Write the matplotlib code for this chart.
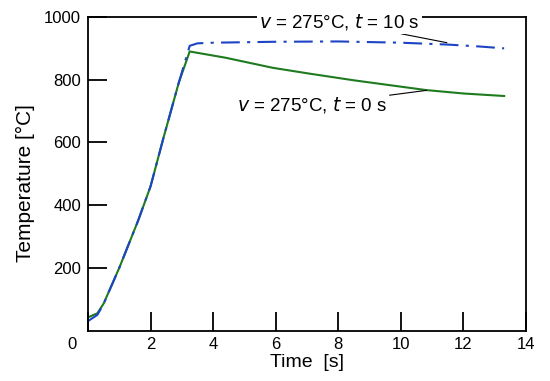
import matplotlib
matplotlib.use('Agg')
import matplotlib.pyplot as plt

# ramp (shared shape), then the two holding curves
ramp_t = [0.0, 0.3, 0.5, 1.0, 1.6, 2.0, 2.4, 2.9, 3.25]
ramp_blue = [30, 50, 85, 200, 350, 460, 610, 790, 908]
ramp_green = [42, 55, 86, 200, 350, 460, 610, 790, 890]

blue_t = [3.5, 4.0, 6.0, 8.0, 10.0, 11.5, 12.5, 13.3]
blue_T = [916, 918, 921, 922, 918, 912, 906, 900]

green_t = [4.4, 5.9, 7.1, 8.5, 10.8, 12.0, 13.3]
green_T = [870, 838, 819, 798, 767, 756, 748]

xticks = [0, 2, 4, 6, 8, 10, 12, 14]
yticks = [200, 400, 600, 800, 1000]

plt.rcParams['font.family'] = ['Liberation Sans', 'DejaVu Sans']
plt.rcParams['font.size'] = 12

fig = plt.figure(figsize=(5.5, 3.81), dpi=100)
ax = fig.add_axes([0.16, 0.1325, 0.7964, 0.8229])

ax.plot(ramp_t + green_t, ramp_green + green_T, color='#1e7b1e', lw=1.5)
ax.plot(ramp_t + blue_t, ramp_blue + blue_T, color='#1c44c4', lw=1.5,
        linestyle=(0, (9, 3.5, 1.5, 3.5)))

ax.set_xlim(0, 14)
ax.set_ylim(0, 1000)
ax.set_xticks(xticks)
ax.set_xticklabels([''] + [str(x) for x in xticks[1:]])
ax.set_yticks(yticks)
ax.tick_params(direction='in', length=13.5, width=1.3, pad=5, labelsize=12)
for s in ax.spines.values():
    s.set_linewidth(1.3)

ax.annotate('0', xy=(0, 0), xycoords=('data', 'axes fraction'),
            xytext=(-11.5, -4.7), textcoords='offset points',
            ha='center', va='top', fontsize=12)

ax.set_xlabel('Time  [s]', fontsize=14, labelpad=1)
ax.set_ylabel('Temperature [°C]', fontsize=15)
ax.yaxis.set_label_coords(-0.12, 0.47)

ax.annotate('$\\it{v}$ = 275°C, $\\it{t}$ = 10 s', xy=(11.47, 918),
            xytext=(10.6, 985), ha='right', va='center', fontsize=13.5,
            bbox=dict(facecolor='white', edgecolor='none', pad=1.5),
            arrowprops=dict(arrowstyle='-', color='black', lw=0.8,
                            shrinkA=0, shrinkB=0),
            annotation_clip=False, zorder=5)
ax.annotate('$\\it{v}$ = 275°C, $\\it{t}$ = 0 s', xy=(10.82, 766),
            xytext=(9.55, 718), ha='right', va='center', fontsize=13.5,
            arrowprops=dict(arrowstyle='-', color='black', lw=0.8,
                            shrinkA=0, shrinkB=0))

fig.savefig('out.png', dpi=100)
